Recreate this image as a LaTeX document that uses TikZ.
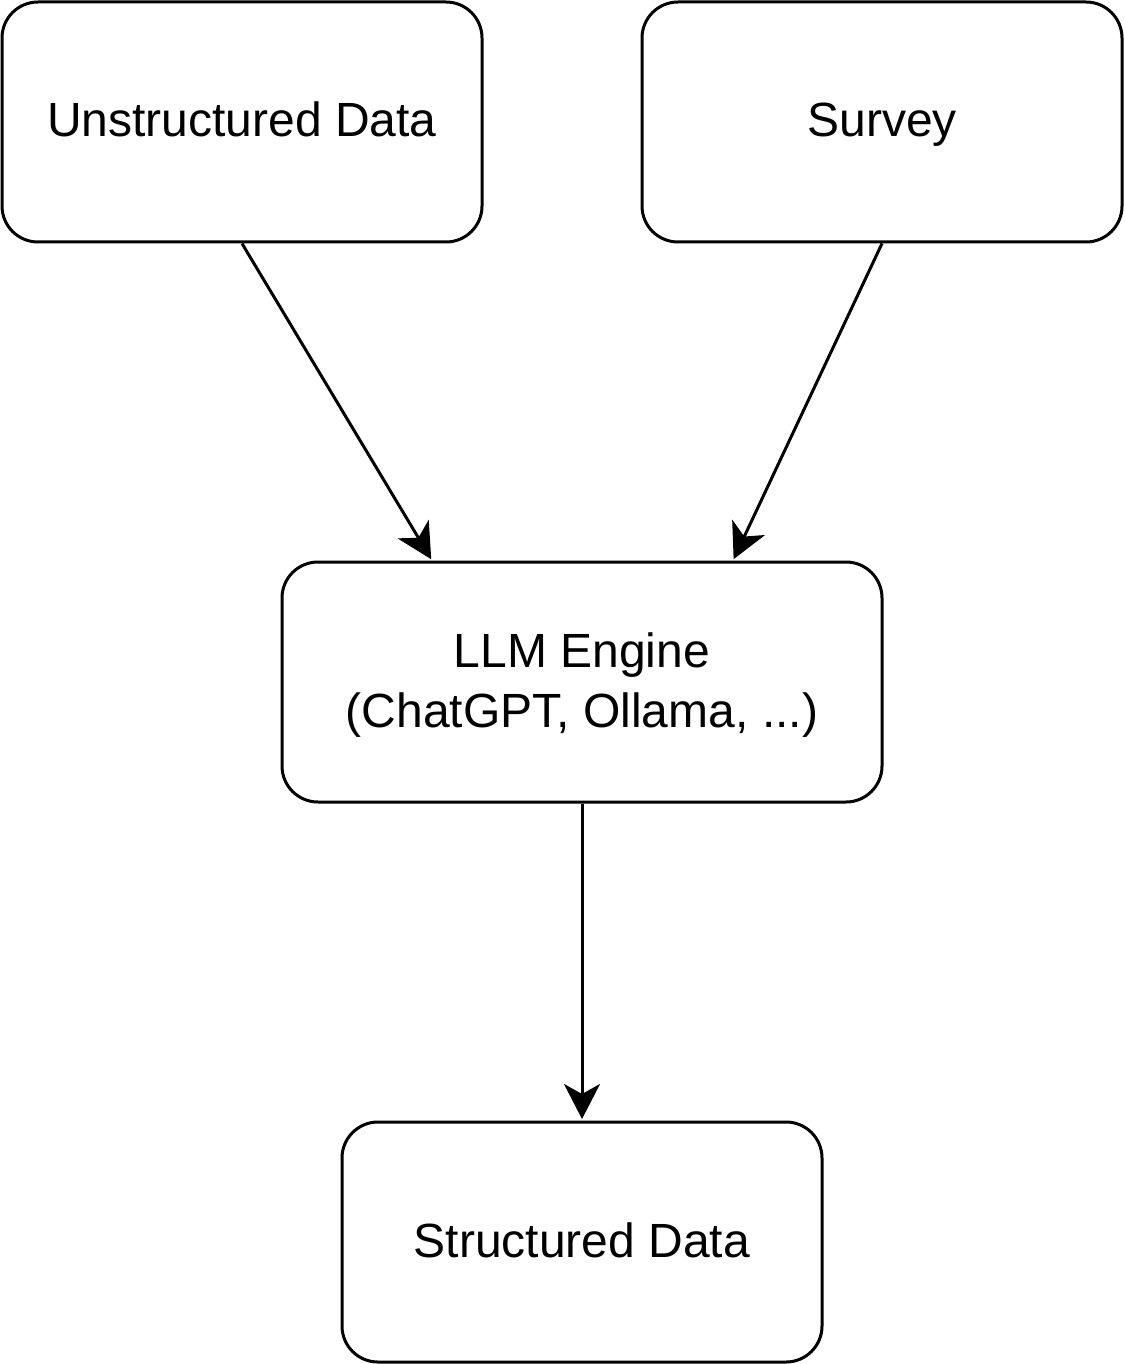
\documentclass[tikz,border=0pt]{standalone}
\usepackage{fontspec}
\setmainfont{Liberation Sans}
\usetikzlibrary{arrows.meta}
\begin{document}
\begin{tikzpicture}[x=1pt,y=1pt,
  box/.style={draw=black,line width=3pt,rounded corners=36pt,minimum width=480pt,minimum height=240pt,inner sep=0pt,font=\fontsize{48}{60}\selectfont},
  onebox/.style={box,text height=36pt,text depth=6pt},
  arr/.style={draw=black,line width=3pt,-{Stealth[length=35pt,width=36pt,inset=10pt]},shorten >=1.5pt}]
\useasboundingbox (0,0) rectangle (1124,-1364);
\node[onebox] (u) at (242,-122) {Unstructured Data};
\node[onebox] (s) at (882,-122) {Survey};
\node[box,align=center,text depth=4pt,minimum width=600pt] (l) at (582,-682) {LLM Engine\\(ChatGPT, Ollama, ...)};
\node[onebox] (d) at (582,-1242) {Structured Data};
\draw[arr] (u.south) -- ([xshift=-150pt]l.north);
\draw[arr] (s.south) -- ([xshift=151pt]l.north);
\draw[arr] (l.south) -- (d.north);
\end{tikzpicture}
\end{document}
